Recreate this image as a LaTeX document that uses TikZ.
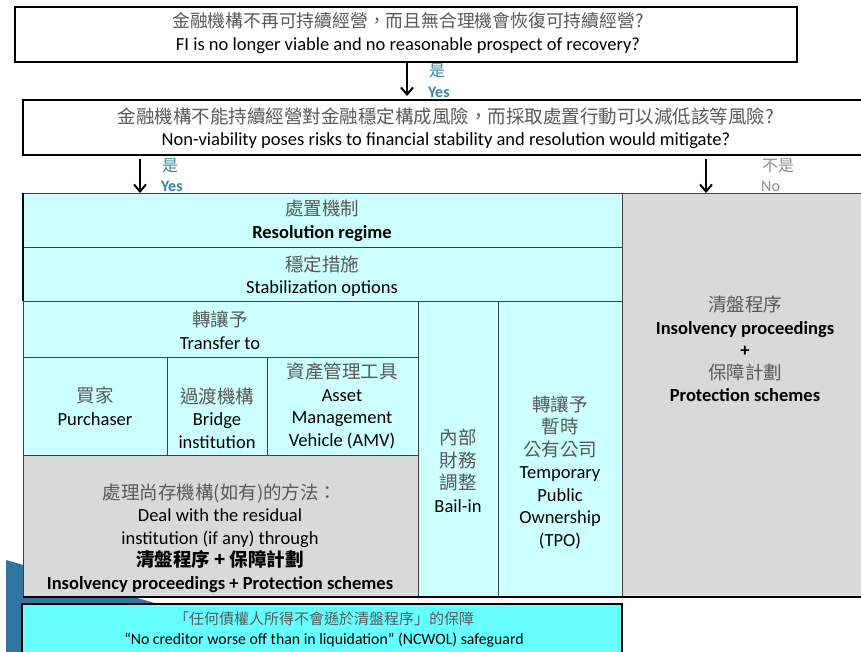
\documentclass[tikz,border=0pt]{standalone}
\usepackage{fontspec}
\setmainfont{Carlito}
\newfontfamily\cjk{Noto Sans CJK TC}
\usetikzlibrary{arrows.meta}
\definecolor{cyanl}{HTML}{CCFFFF}
\definecolor{grayf}{HTML}{D9D9D9}
\definecolor{ncw}{HTML}{66FFFF}
\definecolor{lineg}{HTML}{404040}
\definecolor{yesc}{HTML}{31859C}
\definecolor{cjkg}{HTML}{595959}
\definecolor{nog}{HTML}{8C8C8C}
\definecolor{deco}{HTML}{2E75A0}
\newcommand\zh[1]{{\cjk\color{cjkg}#1}}
\newcommand\zhb[1]{{\cjk\bfseries #1}}
\tikzset{
  cell/.style={draw=lineg, line width=0.9pt, anchor=north west, inner sep=0pt, outer sep=0pt},
  qbox/.style={draw=black, line width=1.2pt, fill=white, anchor=north west, inner sep=0pt, outer sep=0pt},
  txt/.style={align=center, inner sep=0pt, font=\fontsize{18.5}{22.5}\selectfont},
  small/.style={align=center, inner sep=0pt, font=\fontsize{15.8}{20}\selectfont},
  lab/.style={anchor=west, inner sep=0pt, font=\fontsize{16}{20}\selectfont},
  arr/.style={-{Straight Barb[length=7pt,width=12pt,line width=2pt]}, line width=2.2pt, black}
}
\begin{document}
\begin{tikzpicture}[x=1pt,y=-1pt]
\useasboundingbox (0,0) rectangle (861,652);
% decorative wedge
\fill[deco] (6,560) -- (165,606) -- (165,652) -- (6,652) -- cycle;
% questions
\node[qbox, minimum width=782pt, minimum height=55pt] (q1) at (15,7) {};
\node[qbox, minimum width=844pt, minimum height=55pt] (q2) at (23,100) {};
\draw[black, line width=2pt] (q2.north west) -- (q2.south west);
\node[txt] (q1t) at (408,33) {\zh{\fontsize{17.8}{22.5}\selectfont 金融機構不再可持續經營，而且無合理機會恢復可持續經營?}\\FI is no longer viable and no reasonable prospect of recovery?};
\node[txt] (q2t) at (446,128) {\zh{金融機構不能持續經營對金融穩定構成風險，而採取處置行動可以減低該等風險?}\\Non-viability poses risks to financial stability and resolution would mitigate?};
% table cells
\node[cell, fill=cyanl, minimum width=599pt, minimum height=54pt] (reg) at (23,193) {};
\node[cell, fill=cyanl, minimum width=599pt, minimum height=54pt] (stab) at (23,247) {};
\node[cell, fill=cyanl, minimum width=395pt, minimum height=56pt] (tr) at (23,301) {};
\node[cell, fill=cyanl, minimum width=144pt, minimum height=98pt] (pur) at (23,357) {};
\node[cell, fill=cyanl, minimum width=100pt, minimum height=98pt] (bri) at (167,357) {};
\node[cell, fill=cyanl, minimum width=151pt, minimum height=98pt] (amv) at (267,357) {};
\node[cell, fill=grayf, minimum width=395pt, minimum height=142pt] (res) at (23,455) {};
\node[cell, fill=cyanl, minimum width=80pt, minimum height=296pt] (bail) at (418,301) {};
\node[cell, fill=cyanl, minimum width=124pt, minimum height=296pt] (tpo) at (498,301) {};
\node[cell, fill=grayf, minimum width=245pt, minimum height=404pt] (ins) at (622,193) {};
\draw[black, line width=2pt] (reg.north west) -- (stab.south west);
\draw[black, line width=2pt] (res.south west) -- (ins.south east);
% table texts
\node[txt] (regt) at (322,221) {\zh{處置機制}\\\textbf{Resolution regime}};
\node[txt] (stabt) at (322,276) {\zh{穩定措施}\\Stabilization options};
\node[txt] (trt) at (220,330) {\zh{轉讓予}\\Transfer to};
\node[txt] (purt) at (95,406) {\zh{買家}\\Purchaser};
\node[txt] (brit) at (217,418) {\zh{過渡機構}\\Bridge\\institution};
\node[txt] (amvt) at (342,406) {\zh{資產管理工具}\\Asset\\Management\\Vehicle (AMV)};
\node[txt] (rest) at (220,538) {\zh{處理尚存機構(如有)的方法：}\\Deal with the residual\\institution (if any) through\\\zhb{清盤程序 + 保障計劃}\\\textbf{Insolvency proceedings + Protection schemes}};
\node[txt] (bailt) at (458,471) {\zh{內部}\\\zh{財務}\\\zh{調整}\\Bail-in};
\node[txt] (tpot) at (560,472) {\zh{轉讓予}\\\zh{暫時}\\\zh{公有公司}\\Temporary\\Public\\Ownership\\(TPO)};
\node[txt] (inst) at (745,349) {\zh{清盤程序}\\\textbf{Insolvency proceedings}\\\textbf{+}\\\zh{保障計劃}\\\textbf{Protection schemes}};
% NCWOL
\node[cell, draw=black, line width=2.2pt, fill=ncw, minimum width=600pt, minimum height=60pt] (ncw) at (22,604) {};
\node[small] (ncwt) at (324,630) {\zh{\fontsize{15}{20}\selectfont「任何債權人所得不會遜於清盤程序」的保障}\\“No creditor worse off than in liquidation” (NCWOL) safeguard};
% arrows
\coordinate (a1) at (407,0);
\coordinate (a2) at (140,0);
\coordinate (a3) at (706,0);
\draw[arr, shorten <=1pt, shorten >=4pt] (q1.south -| a1) -- (q2.north -| a1);
\draw[arr, shorten <=4pt] (q2.south -| a2) -- (reg.north -| a2);
\draw[arr, shorten <=4pt] (q2.south -| a3) -- (ins.north -| a3);
% labels
\node[lab, text=yesc] (y1a) at (429,71) {\cjk 是};
\node[lab, text=yesc] (y1b) at (428,92) {\textbf{Yes}};
\node[lab, text=yesc] (y2a) at (162,166) {\cjk 是};
\node[lab, text=yesc] (y2b) at (161,186) {\textbf{Yes}};
\node[lab, text=nog] (n1a) at (762,166) {\cjk 不是};
\node[lab, text=nog] (n1b) at (761,186) {No};
\end{tikzpicture}
\end{document}
